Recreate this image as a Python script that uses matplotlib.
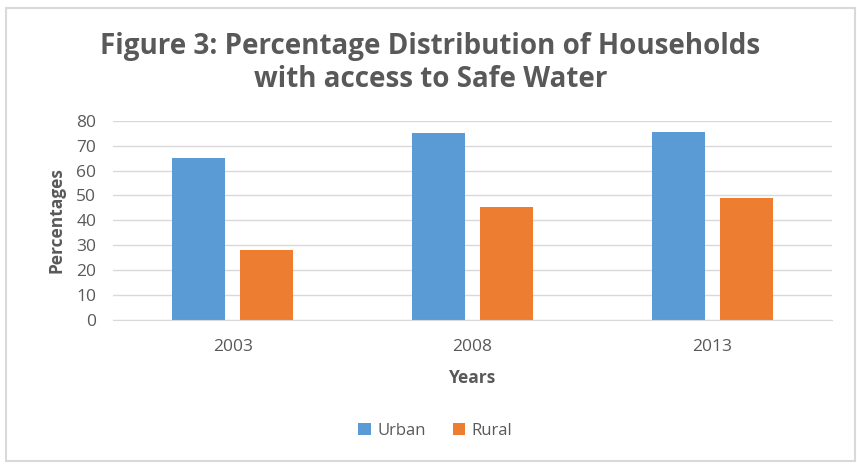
import numpy as np
import matplotlib
matplotlib.use('Agg')
from matplotlib import pyplot as plt
from matplotlib.patches import FancyBboxPatch

years = ['2003', '2008', '2013']
urban = [65.0, 75.0, 75.4]
rural = [28.2, 45.3, 48.9]

text_color = '#595959'
plt.rcParams['font.family'] = ['Open Sans', 'DejaVu Sans']

fig = plt.figure(figsize=(8.57, 4.66), dpi=100)
ax = fig.add_axes([113 / 857, 1 - 319.5 / 466, 719 / 857, 198.5 / 466])

x = np.arange(len(years))
width = 0.221
offset = 0.142
ax.bar(x - offset, urban, width, color='#5b9bd5', label='Urban')
ax.bar(x + offset, rural, width, color='#ed7d31', label='Rural')

ax.set_xlim(-0.5, 2.5)
ax.set_ylim(0, 80)
ax.set_yticks(np.arange(0, 81, 10))
ax.set_xticks(x)
ax.set_xticklabels(years)
ax.yaxis.grid(True, color='#d9d9d9', linewidth=1)
ax.set_axisbelow(True)
for s in ['top', 'right', 'left']:
    ax.spines[s].set_visible(False)
ax.spines['bottom'].set_color('#d9d9d9')
ax.tick_params(axis='both', length=0, labelsize=12.5, colors=text_color)
ax.tick_params(axis='x', pad=14)
ax.tick_params(axis='y', pad=12)

ax.set_xlabel('Years', fontsize=12.5, fontweight='bold', color=text_color, labelpad=10)
ax.set_ylabel('Percentages', fontsize=12.5, fontweight='bold', color=text_color, labelpad=8)

fig.text(0.502, 1 - 63 / 466, 'Figure 3: Percentage Distribution of Households\nwith access to Safe Water',
         ha='center', va='center', fontsize=20, fontweight='bold', color=text_color,
         linespacing=1.2)

fig.legend(loc='center', bbox_to_anchor=(0.508, 1 - 431 / 466), ncol=2, frameon=False,
           fontsize=12, handlelength=0.75, handleheight=0.75, handletextpad=0.4,
           columnspacing=1.6, labelcolor=text_color)

border = FancyBboxPatch((6 / 857, 5 / 466), 849 / 857, 453 / 466, boxstyle='square,pad=0',
                        transform=fig.transFigure, fill=False, edgecolor='#d9d9d9', linewidth=1.5)
fig.patches.append(border)

fig.savefig('out.png', dpi=100)
